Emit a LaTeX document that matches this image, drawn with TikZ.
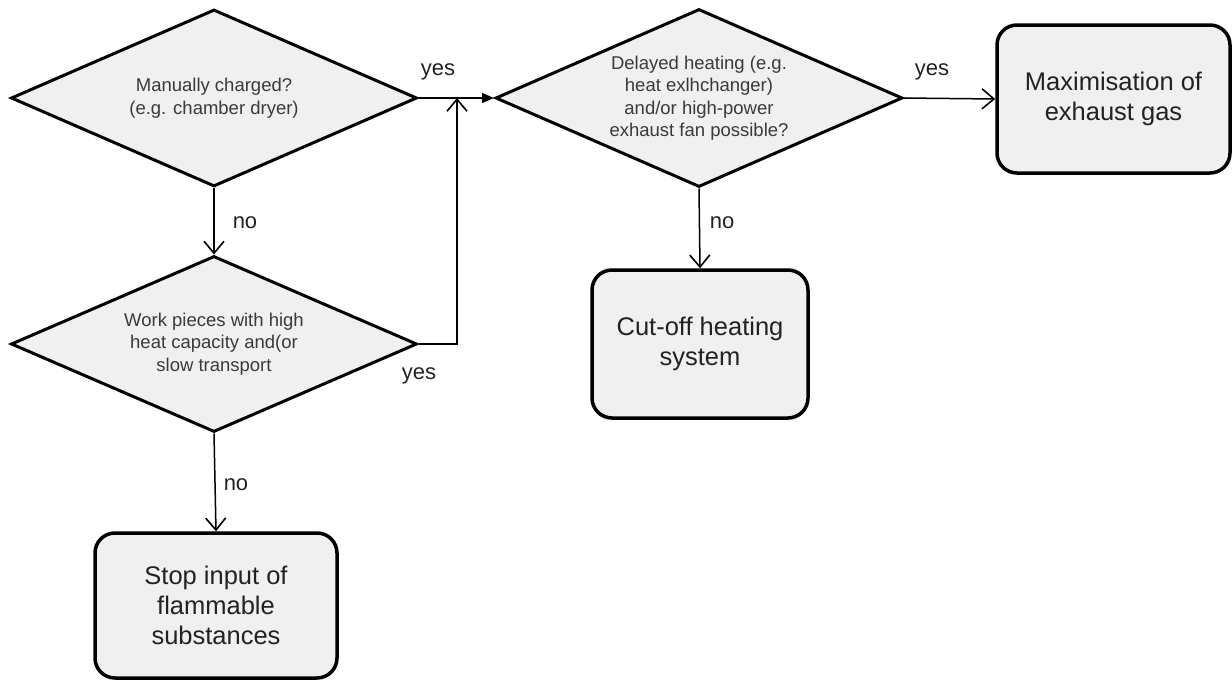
\documentclass[tikz,border=0pt]{standalone}
\usepackage{fontspec}
\setmainfont{Liberation Sans}
\usetikzlibrary{shapes.geometric,arrows.meta}
\definecolor{boxfill}{HTML}{F0F0F0}
\definecolor{dtext}{HTML}{3A3A3A}
\definecolor{btext}{HTML}{222222}
\tikzset{
  x=1pt,y=-1pt,
  decision/.style={diamond,draw=black,line width=3pt,fill=boxfill,inner sep=0pt,
    aspect=2.29,align=center,text=dtext,font=\fontsize{18.5}{22.5}\selectfont},
  result/.style={rectangle,rounded corners=20pt,draw=black,line width=3.5pt,fill=boxfill,
    inner sep=0pt,align=center,text=btext,font=\fontsize{25.5}{30}\selectfont},
  conn/.style={line width=1.5pt,-{Straight Barb[length=12pt,width=20pt,line width=1.6pt]}},
  connf/.style={line width=1.5pt,-{Triangle[length=12pt,width=10pt]}},
  lbl/.style={text=btext,font=\fontsize{22}{26}\selectfont,inner sep=0pt}
}
\begin{document}
\begin{tikzpicture}
\useasboundingbox (0,0) rectangle (1232,680);
\node[decision,minimum width=406pt,minimum height=177pt] (d1) at (214,98)
  {Manually charged?\\(e.g. chamber dryer)};
\node[decision,minimum width=406pt,minimum height=176pt] (d2) at (214,344)
  {Work pieces with high\\heat capacity and(or\\slow transport};
\node[decision,minimum width=407pt,minimum height=178pt] (d3) at (699,98)
  {Delayed heating (e.g.\\heat exlhchanger)\\and/or high-power\\exhaust fan possible?};
\node[result,minimum width=233pt,minimum height=148pt] (r1) at (1113.5,99)
  {Maximisation of\\exhaust gas};
\node[result,minimum width=216pt,minimum height=148pt] (r2) at (700,344)
  {Cut-off heating\\system};
\node[result,minimum width=242pt,minimum height=145pt] (r3) at (216,605.5)
  {Stop input of\\flammable\\substances};
\coordinate (j) at (457,98);
\draw[connf] (d1.east) -- (d3.west);
\draw[conn] (d2.east) -| (j);
\draw[conn] (d1.south) -- (d2.north);
\draw[conn] (d2.south) -- (r3.north);
\draw[conn] (d3.south) -- (r2.north);
\draw[conn] (d3.east) -- (r1.west);
\node[lbl] (l1) at (438,72) {yes};
\node[lbl] (l2) at (419,376) {yes};
\node[lbl] (l3) at (932,72) {yes};
\node[lbl] (l4) at (245,223) {no};
\node[lbl] (l5) at (722,223) {no};
\node[lbl] (l6) at (236,485) {no};
\end{tikzpicture}
\end{document}
